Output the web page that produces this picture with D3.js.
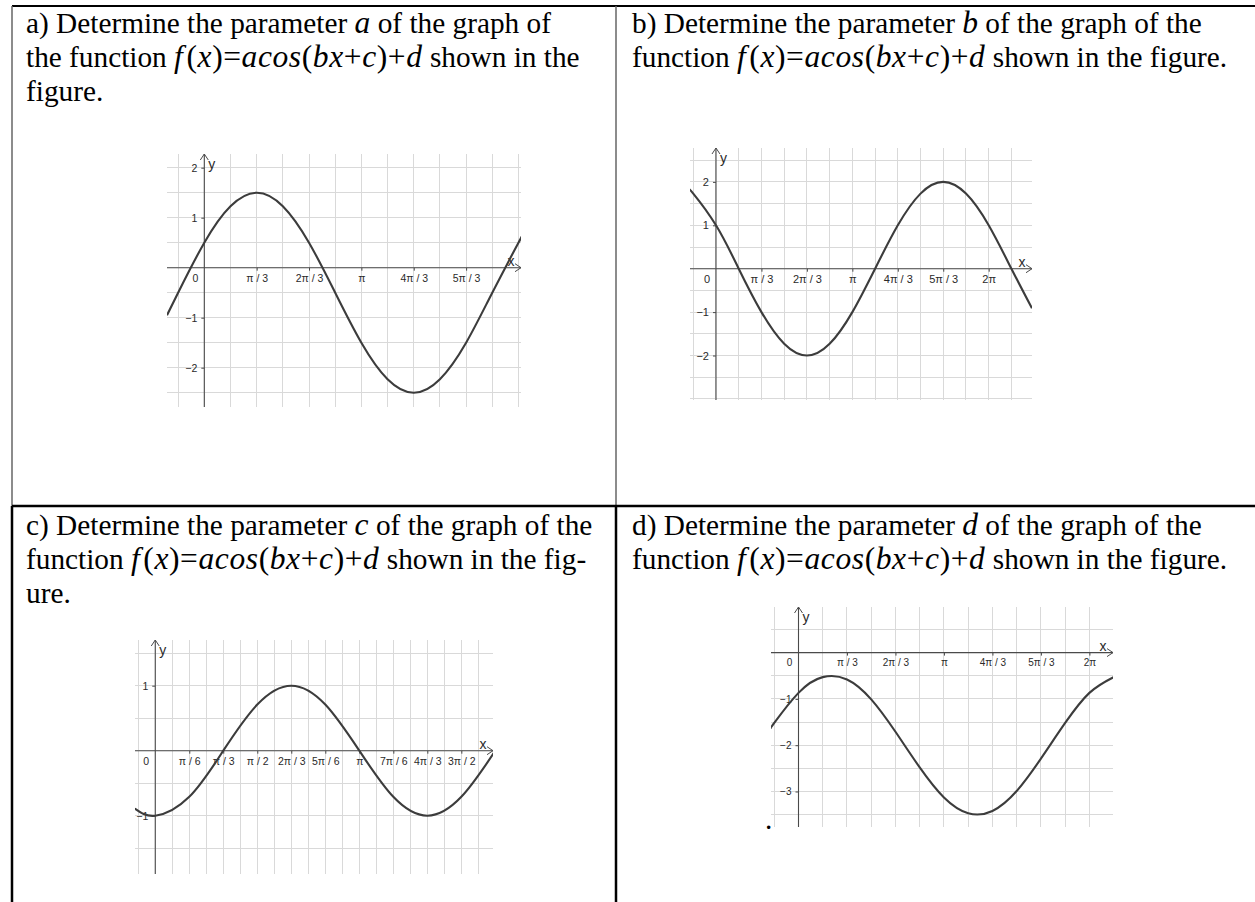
<!DOCTYPE html>
<html>
<head>
<meta charset="utf-8">
<script src="https://cdn.jsdelivr.net/npm/d3@7"></script>
<style>
  body { margin: 0; background: #fff; }
  svg { display: block; }
  text { white-space: pre; }
</style>
</head>
<body>
<svg id="page" width="1255" height="902"></svg>
<script>
// ---------- data: curve samples (x in multiples of π, y as read on the grid) ----------
const curveAX = [-0.2375, -1/6, 0, 1/6, 2/6, 3/6, 4/6, 5/6, 1, 7/6, 8/6, 9/6, 10/6, 11/6, 2, 2.015];
const curveAY = [-0.95, -0.5, 0.5, 1.23, 1.5, 1.23, 0.5, -0.5, -1.5, -2.23, -2.5, -2.23, -1.5, -0.5, 0.5, 0.58];

const curveBX = [-0.19, -1/6, 0, 1/6, 2/6, 3/6, 4/6, 5/6, 1, 7/6, 8/6, 9/6, 10/6, 11/6, 2, 13/6, 2.317];
const curveBY = [1.80, 1.73, 1, 0, -1, -1.73, -2, -1.73, -1, 0, 1, 1.73, 2, 1.73, 1, 0, -0.91];

const curveCX = [-0.1, 0, 1/6, 2/6, 3/6, 4/6, 5/6, 1, 7/6, 8/6, 9/6, 10/6];
const curveCY = [-0.89, -1, -0.71, 0, 0.71, 1, 0.71, 0, -0.71, -1, -0.71, 0];

const curveDX = [-0.189, -1/6, 0, 1/6, 2/6, 3/6, 4/6, 5/6, 1, 7/6, 8/6, 9/6, 10/6, 11/6, 2, 13/6];
const curveDY = [-1.62, -1.52, -0.87, -0.53, -0.58, -1.01, -1.71, -2.48, -3.13, -3.47, -3.42, -2.99, -2.29, -1.52, -0.87, -0.53];

// ---------- data: axis tick values and labels ----------
const xTicksThirds = [1/3, 2/3, 1, 4/3, 5/3];
const xLabelsThirds = ["π / 3", "2π / 3", "π", "4π / 3", "5π / 3"];
const xTicksThirdsTo2Pi = [1/3, 2/3, 1, 4/3, 5/3, 2];
const xLabelsThirdsTo2Pi = ["π / 3", "2π / 3", "π", "4π / 3", "5π / 3", "2π"];
const xTicksSixths = [1/6, 2/6, 3/6, 4/6, 5/6, 1, 7/6, 8/6, 9/6];
const xLabelsSixths = ["π / 6", "π / 3", "π / 2", "2π / 3", "5π / 6", "π", "7π / 6", "4π / 3", "3π / 2"];
const yTicksA = [2, 1, -1, -2];
const yTicksB = [2, 1, -1, -2];
const yTicksC = [1, -1];
const yTicksD = [-1, -2, -3];

// ---------- data: question texts ----------
const questionLetters = ["a", "b", "c", "d"];

const svg = d3.select("#page");
const PI = Math.PI;
const serif = "'Liberation Serif','Times New Roman',serif";
const sans = "'Liberation Sans',Arial,sans-serif";

// ---------- table rules ----------
const rules = [
  { x1: 12, y1: 6, x2: 1255, y2: 6, c: "#000", w: 2 },
  { x1: 12, y1: 6, x2: 12, y2: 506, c: "#666", w: 1.5 },
  { x1: 616, y1: 6, x2: 616, y2: 506, c: "#666", w: 1.5 },
  { x1: 12, y1: 506, x2: 1255, y2: 506, c: "#000", w: 2.5 },
  { x1: 12, y1: 506, x2: 12, y2: 902, c: "#000", w: 2.5 },
  { x1: 616, y1: 506, x2: 616, y2: 902, c: "#000", w: 2.5 }
];
svg.append("g").selectAll("line").data(rules).join("line")
  .attr("x1", d => d.x1).attr("y1", d => d.y1)
  .attr("x2", d => d.x2).attr("y2", d => d.y2)
  .attr("stroke", d => d.c).attr("stroke-width", d => d.w);

// ---------- question text ----------
const bodySize = 29.3, mathSize = 31.5, lineGap = 34;
// [text, italic, extra gap before]
const mathRuns = [["f", 1, 0], ["(", 0, 3], ["x", 1, 0], [")=", 0, 0], ["acos", 1, 0], ["(", 0, 0], ["bx", 1, 0], ["+", 0, 0], ["c", 1, 0], [")+", 0, 0], ["d", 1, 0]];

function writeLines(x, y0, lines) {
  lines.forEach((segs, i) => {
    const t = svg.append("text")
      .attr("x", x).attr("y", y0 + i * lineGap)
      .attr("font-family", serif).attr("font-size", bodySize).attr("fill", "#000");
    segs.forEach(s => {
      if (s === "MATH") {
        mathRuns.forEach(([txt, it, gap]) => {
          const sp = t.append("tspan").text(txt).attr("font-size", mathSize).attr("letter-spacing", 0.6);
          if (gap) sp.attr("dx", gap);
          if (it) sp.attr("font-style", "italic");
        });
      } else if (typeof s === "object") {
        t.append("tspan").text(s.m).attr("font-style", "italic").attr("font-size", mathSize);
      } else {
        t.append("tspan").text(s);
      }
    });
  });
}

writeLines(26, 33, [
  [questionLetters[0] + ") Determine the parameter ", { m: questionLetters[0] }, " of the graph of"],
  ["the function ", "MATH", " shown in the"],
  ["figure."]
]);
writeLines(632, 33, [
  [questionLetters[1] + ") Determine the parameter ", { m: questionLetters[1] }, " of the graph of the"],
  ["function ", "MATH", " shown in the figure."]
]);
writeLines(26, 535, [
  [questionLetters[2] + ") Determine the parameter ", { m: questionLetters[2] }, " of the graph of the"],
  ["function ", "MATH", " shown in the fig-"],
  ["ure."]
]);
writeLines(632, 535, [
  [questionLetters[3] + ") Determine the parameter ", { m: questionLetters[3] }, " of the graph of the"],
  ["function ", "MATH", " shown in the figure."]
]);
svg.append("text").attr("x", 765).attr("y", 829)
  .attr("font-family", serif).attr("font-size", bodySize).text(".");

// ---------- graph panels ----------
function drawPanel(cfg) {
  const { name, frame, xDomain, yDomain, xStep, xTicks, xLabels, yTicks, cx, cy, fs } = cfg;
  const g = svg.append("g");
  const x = d3.scaleLinear().domain(xDomain).range([frame.left, frame.right]);
  const y = d3.scaleLinear().domain(yDomain).range([frame.top, frame.bottom]);
  const x0 = x(0), y0 = y(0);

  const clipId = "clip-" + name;
  svg.append("clipPath").attr("id", clipId).append("rect")
    .attr("x", frame.left).attr("y", frame.top)
    .attr("width", frame.right - frame.left).attr("height", frame.bottom - frame.top);

  // grid
  const vx = d3.range(Math.ceil(xDomain[0] / xStep), Math.floor(xDomain[1] / xStep) + 1).map(i => i * xStep);
  const hy = d3.range(Math.ceil(yDomain[1] / 0.5), Math.floor(yDomain[0] / 0.5) + 1).map(i => i * 0.5);
  const grid = g.append("g").attr("stroke", "#d9d9d9").attr("stroke-width", 1).attr("shape-rendering", "crispEdges");
  grid.selectAll(".v").data(vx).join("line").attr("class", "v")
    .attr("x1", d => x(d)).attr("x2", d => x(d)).attr("y1", frame.top).attr("y2", frame.bottom);
  grid.selectAll(".h").data(hy).join("line").attr("class", "h")
    .attr("y1", d => y(d)).attr("y2", d => y(d)).attr("x1", frame.left).attr("x2", frame.right);

  // axes lines with open arrow heads
  const axisColor = "#4a4a4a";
  g.append("line").attr("x1", frame.left).attr("x2", frame.right).attr("y1", y0).attr("y2", y0)
    .attr("stroke", axisColor).attr("stroke-width", 1.1);
  g.append("line").attr("x1", x0).attr("x2", x0).attr("y1", frame.top).attr("y2", frame.bottom)
    .attr("stroke", axisColor).attr("stroke-width", 1.1);
  g.append("path").attr("d", `M${frame.right - 6},${y0 - 4}L${frame.right},${y0}L${frame.right - 6},${y0 + 4}`)
    .attr("fill", "none").attr("stroke", axisColor).attr("stroke-width", 1);
  g.append("path").attr("d", `M${x0 - 4},${frame.top + 6}L${x0},${frame.top}L${x0 + 4},${frame.top + 6}`)
    .attr("fill", "none").attr("stroke", axisColor).attr("stroke-width", 1);

  // tick labels via d3 axes
  const xAxis = d3.axisBottom(x)
    .tickValues(xTicks.map(t => t * PI))
    .tickFormat((d, i) => xLabels[i])
    .tickSize(3).tickPadding(3.5);
  g.append("g").attr("transform", `translate(0,${y0})`).call(xAxis)
    .call(s => s.select(".domain").remove())
    .call(s => s.selectAll("line").attr("stroke", axisColor))
    .call(s => s.selectAll("text").attr("font-family", sans).attr("font-size", fs).attr("fill", "#2a2a2a"));

  const yAxis = d3.axisLeft(y)
    .tickValues(yTicks)
    .tickFormat(d => (d < 0 ? "\u2212" + Math.abs(d) : String(d)))
    .tickSize(3).tickPadding(4);
  g.append("g").attr("transform", `translate(${x0},0)`).call(yAxis)
    .call(s => s.select(".domain").remove())
    .call(s => s.selectAll("line").attr("stroke", axisColor))
    .call(s => s.selectAll("text").attr("font-family", sans).attr("font-size", fs).attr("fill", "#2a2a2a"));

  g.append("text").attr("x", x0 - 9).attr("y", y0 + 6.5).attr("dy", "0.71em")
    .attr("text-anchor", "middle").attr("font-family", sans).attr("font-size", fs).attr("fill", "#2a2a2a").text("0");

  // axis names
  g.append("text").attr("x", frame.right - 10).attr("y", y0 - 2).attr("text-anchor", "middle")
    .attr("font-family", sans).attr("font-size", 14).attr("fill", "#2a2a2a").text("x");
  g.append("text").attr("x", x0 + 4).attr("y", frame.top + 15)
    .attr("font-family", sans).attr("font-size", 14).attr("fill", "#2a2a2a").text("y");

  // curve
  const pts = cx.map((v, i) => [v * PI, cy[i]]);
  const line = d3.line().x(d => x(d[0])).y(d => y(d[1])).curve(d3.curveNatural);
  g.append("path").attr("clip-path", `url(#${clipId})`).attr("d", line(pts))
    .attr("fill", "none").attr("stroke", "#3c3c3c").attr("stroke-width", 2.1).attr("stroke-linejoin", "round");
}

drawPanel({
  name: "a", frame: { left: 167, right: 521, top: 154, bottom: 407 },
  xDomain: [-0.746, 6.334], yDomain: [2.274, -2.786], xStep: PI / 6,
  xTicks: xTicksThirds, xLabels: xLabelsThirds, yTicks: yTicksA,
  cx: curveAX, cy: curveAY, fs: 10.5
});
drawPanel({
  name: "b", frame: { left: 690, right: 1032, top: 148, bottom: 400 },
  xDomain: [-0.599, 7.281], yDomain: [2.781, -3.025], xStep: PI / 6,
  xTicks: xTicksThirdsTo2Pi, xLabels: xLabelsThirdsTo2Pi, yTicks: yTicksB,
  cx: curveBX, cy: curveBY, fs: 11
});
drawPanel({
  name: "c", frame: { left: 135, right: 493, top: 640, bottom: 874 },
  xDomain: [-0.312, 5.2], yDomain: [1.703, -1.897], xStep: PI / 12,
  xTicks: xTicksSixths, xLabels: xLabelsSixths, yTicks: yTicksC,
  cx: curveCX, cy: curveCY, fs: 10.5
});
drawPanel({
  name: "d", frame: { left: 771, right: 1113, top: 607, bottom: 827 },
  xDomain: [-0.594, 6.793], yDomain: [0.985, -3.767], xStep: PI / 6,
  xTicks: xTicksThirdsTo2Pi, xLabels: xLabelsThirdsTo2Pi, yTicks: yTicksD,
  cx: curveDX, cy: curveDY, fs: 10
});
</script>
</body>
</html>
